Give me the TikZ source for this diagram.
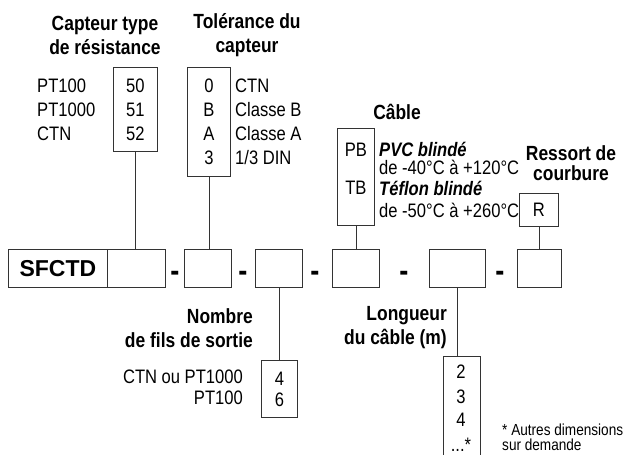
\documentclass[tikz,border=0pt]{standalone}
\usepackage{fontspec}
\setmainfont{Liberation Sans}[FakeStretch=0.85]
\newfontfamily\widefont{Liberation Sans}
\begin{document}
\begin{tikzpicture}[x=1pt, y=-1pt,
    box/.style={draw=black!80, line width=0.8pt, inner sep=0pt, anchor=north west, align=center,
      font=\fontsize{19.5}{24}\selectfont},
    txt/.style={inner sep=0pt, font=\fontsize{19.5}{24}\selectfont},
    hdr/.style={inner sep=0pt, align=center, font=\bfseries\fontsize{20.5}{24}\selectfont},
    sep/.style={inner sep=0pt, anchor=base, font=\bfseries\fontsize{32}{32}\selectfont},
    note/.style={inner sep=0pt, anchor=west, font=\fontsize{16}{15}\selectfont},
    wire/.style={draw=black!80, line width=0.8pt}]
    \useasboundingbox (0,0) rectangle (627,455);
    % Reference row
    \node[box, minimum width=99pt, minimum height=38pt, font=\widefont\bfseries\fontsize{23}{24}\selectfont]
      (sfctd) at (8,249) {SFCTD};
    \node[box, minimum width=58pt, minimum height=38pt] (ftype) at (107,249) {};
    \node[box, minimum width=47pt, minimum height=38pt] (ftol) at (184,249) {};
    \node[box, minimum width=47pt, minimum height=38pt] (ffils) at (255,249) {};
    \node[box, minimum width=47pt, minimum height=38pt] (fcable) at (332,249) {};
    \node[box, minimum width=56pt, minimum height=38pt] (flong) at (429,249) {};
    \node[box, minimum width=44pt, minimum height=38pt] (fressort) at (517,249) {};
    % Separators
    \node[sep] (s1) at (175,281) {-};
    \node[sep] (s2) at (243,281) {-};
    \node[sep] (s3) at (315,281) {-};
    \node[sep] (s4) at (404,281) {-};
    \node[sep] (s5) at (500,281) {-};
    % Sensor type
    \node[hdr] (htype) at (105,35) {Capteur type\\de résistance};
    \node[box, minimum width=44pt, minimum height=84pt] (btype) at (113,67) {50\\51\\52};
    \node[txt, anchor=west] (type1) at (37,86) {PT100};
    \node[txt, anchor=west] (type2) at (37,110) {PT1000};
    \node[txt, anchor=west] (type3) at (37,134) {CTN};
    % Tolerance
    \node[hdr] (htol) at (247,35.5) {Tolérance du\\capteur};
    \node[box, minimum width=43pt, minimum height=109pt] (btol) at (187,67) {0\\B\\A\\3};
    \node[txt, anchor=west] (tol1) at (235,86) {CTN};
    \node[txt, anchor=west] (tol2) at (235,110) {Classe B};
    \node[txt, anchor=west] (tol3) at (235,134) {Classe A};
    \node[txt, anchor=west] (tol4) at (235,158) {1/3 DIN};
    % Number of wires
    \node[hdr, anchor=east, align=right] (hfils) at (253,328) {Nombre\\de fils de sortie};
    \node[box, minimum width=36pt, minimum height=57pt, font=\fontsize{19.5}{21}\selectfont]
      (bfils) at (261,360) {4\\6};
    \node[txt, anchor=east] (fils1) at (243,377) {CTN ou PT1000};
    \node[txt, anchor=east] (fils2) at (243,398) {PT100};
    % Cable
    \node[hdr] (hcable) at (397,112) {Câble};
    \node[box, minimum width=37pt, minimum height=97pt] (bcable) at (337,128) {};
    \node[txt] (pb) at (bcable.center |- 0,150) {PB};
    \node[txt] (tb) at (bcable.center |- 0,188) {TB};
    \node[txt, anchor=west, font=\bfseries\itshape\fontsize{19.5}{24}\selectfont] (pvc) at (379,149) {PVC blindé};
    \node[txt, anchor=west] (pvct) at (379,167) {de -40°C à +120°C};
    \node[txt, anchor=west, font=\bfseries\itshape\fontsize{19.5}{24}\selectfont] (tef) at (379,188) {Téflon blindé};
    \node[txt, anchor=west] (teft) at (379,210) {de -50°C à +260°C};
    % Cable length
    \node[hdr, anchor=east, align=right] (hlong) at (447,328) {Longueur\\du câble (m)};
    \node[box, minimum width=37pt, minimum height=120pt] (blong) at (443,356) {};
    \node[txt] (long1) at (461,372) {2};
    \node[txt] (long2) at (461,397) {3};
    \node[txt] (long3) at (461,420) {4};
    \node[txt] (long4) at (461,445) {...*};
    \node[note] (note1) at (502,430) {* Autres dimensions};
    \node[note] (note2) at (502,445) {sur demande};
    % Spring
    \node[hdr] (hressort) at (571,163) [font=\bfseries\fontsize{20.5}{20}\selectfont] {Ressort de\\courbure};
    \node[box, minimum width=39pt, minimum height=33pt] (bressort) at (519,193) {R};
    % Connectors
    \draw[wire] (btype.south) -- (btype.south |- ftype.north);
    \draw[wire] (btol.south) -- (btol.south |- ftol.north);
    \draw[wire] (ffils.south) -- (ffils.south |- bfils.north);
    \draw[wire] (bcable.south) -- (bcable.south |- fcable.north);
    \draw[wire] (flong.south) -- (flong.south |- blong.north);
    \draw[wire] (bressort.south) -- (bressort.south |- fressort.north);
\end{tikzpicture}
\end{document}
